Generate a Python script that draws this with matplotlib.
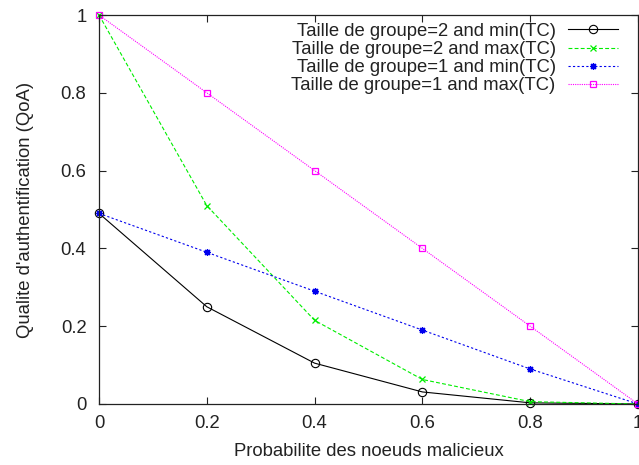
import numpy as np
import matplotlib
matplotlib.use("Agg")
import matplotlib.pyplot as plt

plt.rcParams["font.family"] = ["Liberation Sans", "DejaVu Sans"]

# probability of malicious nodes vs. quality of authentication
p_mal = [0.0, 0.2, 0.4, 0.6, 0.8, 1.0]
g2_min = [0.49, 0.25, 0.105, 0.031, 0.003, 0.0]
g2_max = [1.0, 0.51, 0.215, 0.063, 0.006, 0.0]
g1_min = [0.49, 0.39, 0.29, 0.19, 0.09, 0.0]
g1_max = [1.0, 0.8, 0.6, 0.4, 0.2, 0.0]

labels = ["Taille de groupe=2 and min(TC)",
          "Taille de groupe=2 and max(TC)",
          "Taille de groupe=1 and min(TC)",
          "Taille de groupe=1 and max(TC)"]

FS = 13.3
TXT = "#222222"

fig = plt.figure(figsize=(6.39, 4.65), dpi=100)
ax = fig.add_axes([99/639, 1-404/465, (638-99)/639, (404-15)/465])

styles = [
    dict(color="black", ls="-", marker="o", ms=6, mfc="none", mew=0.8),
    dict(color="#00ee00", ls=(0, (3.5, 2)), marker="x", ms=4.5, mew=0.9),
    dict(color="#0000ee", ls=(0, (2, 2)), marker=(8, 2, 0), ms=5, mew=0.9),
    dict(color="#ff00ff", ls=(0, (1, 1)), marker="s", ms=4.5, mfc="none", mew=0.9),
]
series = [g2_min, g2_max, g1_min, g1_max]

for ys, lab, st in zip(series, labels, styles):
    ax.plot(p_mal, ys, lw=0.8, label=lab, clip_on=False, **st)

ax.set_xlim(0, 1)
ax.set_ylim(0, 1)
ticks = [0, 0.2, 0.4, 0.6, 0.8, 1.0]
tick_labels = ["0", "0.2", "0.4", "0.6", "0.8", "1"]
ax.set_xticks(ticks)
ax.set_xticklabels(tick_labels)
ax.set_yticks(ticks)
ax.set_yticklabels(tick_labels)
ax.tick_params(direction="in", length=5, width=0.8, top=True, right=True,
               labelsize=FS, colors=TXT)
ax.tick_params(axis="x", pad=8)
ax.tick_params(axis="y", pad=9)
for sp in ax.spines.values():
    sp.set_linewidth(0.9)
    sp.set_color(TXT)

ax.set_xlabel("Probabilite des noeuds malicieux", fontsize=FS, color=TXT, labelpad=8)
ax.set_ylabel("Qualite d'authentification (QoA)", fontsize=FS, color=TXT, labelpad=19)

leg = ax.legend(loc="upper right", bbox_to_anchor=(0.986, 1.013), frameon=False,
                markerfirst=False, fontsize=FS, handlelength=2.7,
                handletextpad=0.65, labelspacing=0.06, borderaxespad=0.3,
                numpoints=1)
for t in leg.get_texts():
    t.set_color(TXT)

fig.savefig("out.png", dpi=100)
